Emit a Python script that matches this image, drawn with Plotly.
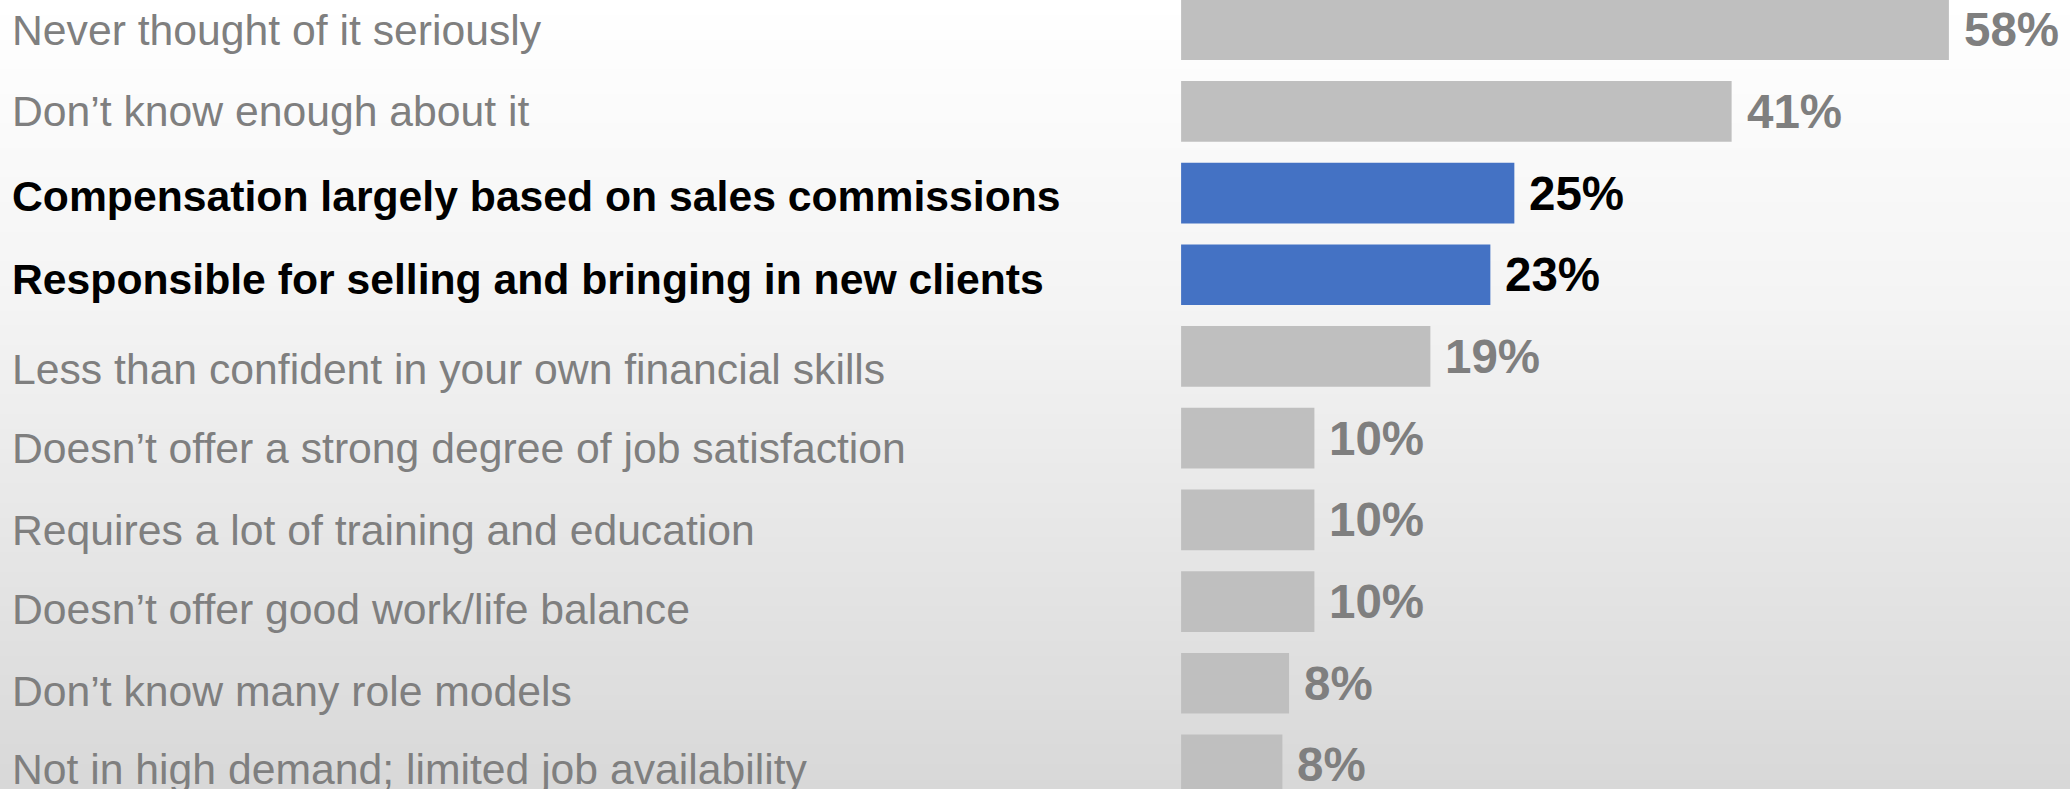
import plotly.graph_objects as go

categories = [
    "Never thought of it seriously",
    "Don\u2019t know enough about it",
    "Compensation largely based on sales commissions",
    "Responsible for selling and bringing in new clients",
    "Less than confident in your own financial skills",
    "Doesn\u2019t offer a strong degree of job satisfaction",
    "Requires a lot of training and education",
    "Doesn\u2019t offer good work/life balance",
    "Don\u2019t know many role models",
    "Not in high demand; limited job availability",
]
values = [57.6, 41.3, 25.0, 23.2, 18.7, 10.0, 10.0, 10.0, 8.1, 7.6]
highlight = [False, False, True, True, False, False, False, False, False, False]

W, H = 2070, 789
GRAY_BAR = "#bfbfbf"
BLUE_BAR = "#4472c4"
GRAY_TXT = "#7f7f7f"
FONT = "Liberation Sans, Arial, sans-serif"

# small per-row vertical nudges (px, downward) of the left-hand text boxes
label_nudge = [0, 0, 3.4, 4.6, 12.9, 9.9, 10.5, 7.1, 8.1, 4.4]

bar_colors = [BLUE_BAR if h else GRAY_BAR for h in highlight]

fig = go.Figure()
fig.add_trace(go.Bar(
    x=values, y=categories, orientation="h",
    marker=dict(color=bar_colors, line=dict(width=0)),
    hoverinfo="skip", showlegend=False,
))

# background vertical gradient (white at top -> light gray at bottom)
def shade(t):
    if t < 0.38:
        v = 255 - (255 - 244) * (t / 0.38)
    else:
        v = 244 - (244 - 216) * ((t - 0.38) / 0.62)
    return int(round(v))

shapes = []
N = 160
for i in range(N):
    t0 = i / N
    t1 = (i + 1) / N
    c = shade((t0 + t1) / 2)
    shapes.append(dict(
        type="rect", xref="paper", yref="paper",
        x0=0, x1=1, y0=1 - t1 - 0.002, y1=1 - t0,
        fillcolor=f"rgb({c},{c},{c})", line=dict(width=0), layer="below",
    ))

annotations = []
for cat, v, h, nd in zip(categories, values, highlight, label_nudge):
    annotations.append(dict(
        x=10 / W, xref="paper", y=cat, yref="y",
        text=f"<b>{cat}</b>" if h else cat,
        showarrow=False, xanchor="left", yanchor="middle", yshift=-nd,
        font=dict(family=FONT, size=42.7, color="#000000" if h else GRAY_TXT),
    ))
    annotations.append(dict(
        x=v, xref="x", y=cat, yref="y",
        text=f"<b>{v:.0f}%</b>",
        showarrow=False, xanchor="left", yanchor="middle", xshift=13,
        font=dict(family=FONT, size=47.5, color="#000000" if h else GRAY_TXT),
    ))

bar_left_px = 1181.1
px_per_unit = 13.33
pitch = 81.7
first_center = 29.65
u_top = -first_center / pitch
u_bottom = u_top + H / pitch

fig.update_layout(
    width=W, height=H,
    margin=dict(l=0, r=0, t=0, b=0),
    paper_bgcolor="#ffffff",
    plot_bgcolor="rgba(0,0,0,0)",
    bargap=1 - 60.7 / pitch,
    shapes=shapes,
    annotations=annotations,
    xaxis=dict(domain=[bar_left_px / W, 1], range=[0, (W - bar_left_px) / px_per_unit],
               visible=False, fixedrange=True),
    yaxis=dict(type="category", categoryorder="array", categoryarray=categories,
               range=[u_bottom, u_top], visible=False, fixedrange=True),
)

fig.write_html(
    "out.html",
    config={"displayModeBar": False},
    post_script="document.body.style.margin='0';document.body.style.padding='0';document.body.style.overflow='hidden';",
)
